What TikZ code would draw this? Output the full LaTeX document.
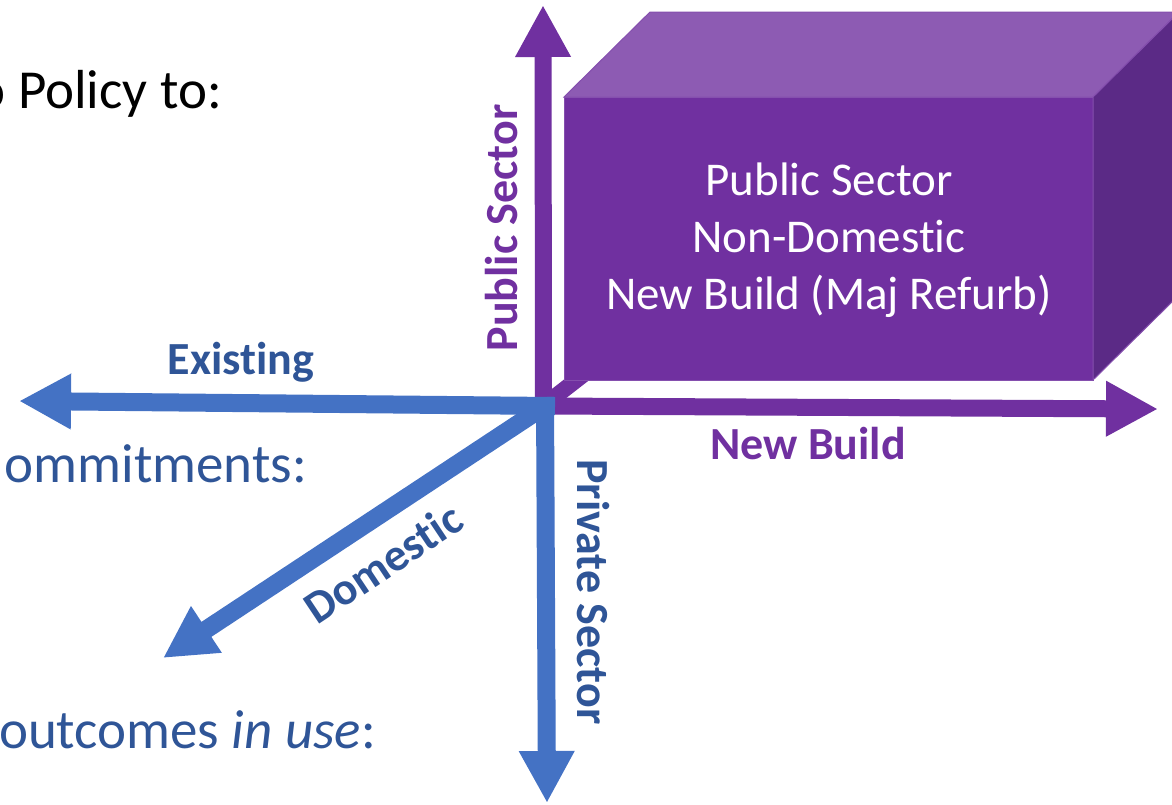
\documentclass[tikz,border=0pt]{standalone}
\usepackage{fontspec}
\setmainfont{Carlito}[Ligatures=NoCommon]
\usetikzlibrary{positioning,arrows.meta}
\definecolor{purp}{HTML}{7030A0}
\definecolor{purptop}{HTML}{8D5BB3}
\definecolor{purpside}{HTML}{5B2A86}
\definecolor{axblue}{HTML}{4472C4}
\definecolor{txtblue}{HTML}{2F5597}

\begin{document}
\begin{tikzpicture}[
    x=1pt, y=-1pt,
    pil/.style={
        -{Triangle[length=52pt,width=52pt]},
        line width=17pt},
    axlabel/.style={
        font=\fontsize{46}{55}\selectfont\bfseries,
        inner sep=0pt},
    bodytext/.style={
        font=\fontsize{55}{66}\selectfont,
        anchor=base east,
        inner sep=0pt}
]
\useasboundingbox (0,0) rectangle (1172,804);
\clip (0,0) rectangle (1172,804);

% text of the slide behind the diagram
\node[bodytext,text=black] (txtpolicy) at (222,108) {o Policy to:};
\node[bodytext,text=txtblue] (txtcommit) at (307,482) {ommitments:};
\node[bodytext,text=txtblue] (txtoutcome) at (376,748) {outcomes \textit{in use}:};

% axis ends
\coordinate (po) at (543,406);
\coordinate (pobot) at (543.5,415);
\coordinate (pubtip) at (543,5);
\coordinate (newtip) at (1158,409);
\coordinate (deptip) at (701,283);
\coordinate (bo) at (545,406);
\coordinate (botop) at (545,397);
\coordinate (boright) at (555,406);
\coordinate (exitip) at (19,401);
\coordinate (privtip) at (547,803);
\coordinate (domtip) at (163,658);

% hidden depth axis and the cube
\draw[purp,line width=16pt] (po) -- (deptip);
\fill[purp,draw=purp!85!white,line width=1pt] (564,97) rectangle (1093,380);
\fill[purptop,draw=purp!85!white,line width=1pt] (564,97) -- (650,12) -- (1179,12) -- (1093,97) -- cycle;
\fill[purpside,draw=purp!85!white,line width=1pt] (1093,97) -- (1179,12) -- (1179,295) -- (1093,380) -- cycle;
\node[align=center,text=white,font=\fontsize{47}{57}\selectfont] (boxtext) at (829,240)
    {Public Sector\\Non-Domestic\\New Build (Maj Refurb)};

% purple axes
\draw[pil,purp] (pobot) -- (pubtip);
\draw[pil,purp] (po) -- (newtip);

% blue axes
\draw[pil,axblue,line width=18pt] (boright) -- (exitip);
\draw[pil,axblue,line width=18pt] (botop) -- (privtip);
\draw[pil,axblue,line width=18pt] (bo) -- (domtip);

% axis labels
\node[axlabel,text=purp,rotate=90,anchor=base] (lblpublic) at (517,228) {Public Sector};
\node[axlabel,text=purp,anchor=base] (lblnew) at (808,459) {New Build};
\node[axlabel,text=txtblue,anchor=base] (lblexist) at (241,374) {Existing};
\node[axlabel,text=txtblue,rotate=-90,anchor=base] (lblprivate) at (577,592) {Private Sector};
\node[axlabel,text=txtblue,rotate=33.7] (lbldomestic) at (383,563) {Domestic};

\end{tikzpicture}
\end{document}
